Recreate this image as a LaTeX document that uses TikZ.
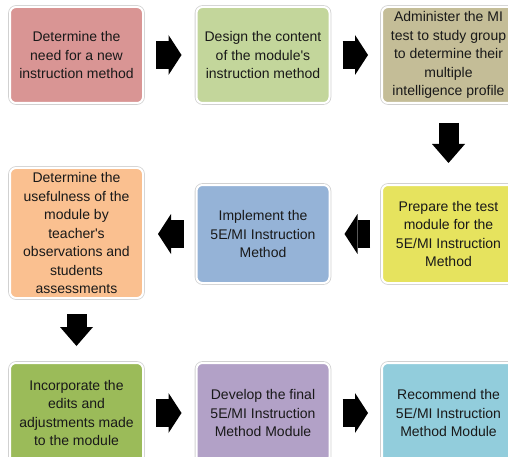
\documentclass[tikz,border=0pt]{standalone}
\usepackage{fontspec}
\setmainfont{Liberation Sans}
\usetikzlibrary{arrows.meta}
\definecolor{boxred}{HTML}{D99594}
\definecolor{boxgreen}{HTML}{C3D69B}
\definecolor{boxtan}{HTML}{C4BD97}
\definecolor{boxyellow}{HTML}{E6E35E}
\definecolor{boxblue}{HTML}{95B3D7}
\definecolor{boxorange}{HTML}{FAC090}
\definecolor{boxolive}{HTML}{9BBB59}
\definecolor{boxpurple}{HTML}{B2A1C7}
\definecolor{boxcyan}{HTML}{92CDDC}
\begin{document}
\begin{tikzpicture}[x=1pt,y=-1pt,
box/.style={rounded corners=6pt, draw=white, line width=2pt, preaction={draw=black!18, line width=3.6pt}, minimum width=133pt, minimum height=96pt, inner sep=0pt, align=center, text=black!90, font=\fontsize{14}{18.5}\selectfont},
flow/.style={line width=28pt, -{Triangle[length=13pt,width=40pt,line width=0pt]}},
dflow/.style={line width=20pt, -{Triangle[length=19pt,width=33pt,line width=0pt]}}]
\useasboundingbox (0,0) rectangle (508,457);
\clip (0,0) rectangle (508,457);
\node[box, fill=boxred] (need) at (76.5,55) {Determine the\\need for a new\\instruction method};
\node[box, fill=boxgreen] (design) at (263,55) {Design the content\\of the module\textquotesingle s\\instruction method};
\node[box, fill=boxtan] (test) at (448.5,55) {Administer the MI\\test to study group\\to determine their\\multiple\\intelligence profile};
\node[box, fill=boxyellow, minimum height=98pt] (prepare) at (448.5,234) {Prepare the test\\module for the\\5E/MI Instruction\\Method};
\node[box, fill=boxblue, minimum height=98pt] (implement) at (263,234) {Implement the\\5E/MI Instruction\\Method};
\node[box, fill=boxorange, minimum height=130pt] (useful) at (76.5,233) {Determine the\\usefulness of the\\module by\\teacher\textquotesingle s\\observations and\\students\\assessments};
\node[box, fill=boxolive, minimum height=100pt] (incorp) at (76.5,413) {Incorporate the\\edits and\\adjustments made\\to the module};
\node[box, fill=boxpurple, minimum height=100pt] (develop) at (263,413) {Develop the final\\5E/MI Instruction\\Method Module};
\node[box, fill=boxcyan, minimum height=100pt] (recommend) at (448.5,413) {Recommend the\\5E/MI Instruction\\Method Module};
\draw[flow, shorten <=12pt, shorten >=14pt] (need) -- (design);
\draw[flow, shorten <=12pt, shorten >=13pt] (design) -- (test);
\draw[dflow, shorten <=19pt, shorten >=21pt] (test) -- (prepare);
\draw[flow, shorten <=11pt, shorten >=14pt] (prepare) -- (implement);
\draw[flow, shorten <=12pt, shorten >=14pt] (implement.west) -- (implement.west -| useful.east);
\draw[dflow, shorten <=15pt, shorten >=16pt] (useful) -- (incorp);
\draw[flow, shorten <=12pt, shorten >=14pt] (incorp.east) -- (incorp.east -| develop.west);
\draw[flow, shorten <=12pt, shorten >=13pt] (develop) -- (recommend);
\end{tikzpicture}
\end{document}
